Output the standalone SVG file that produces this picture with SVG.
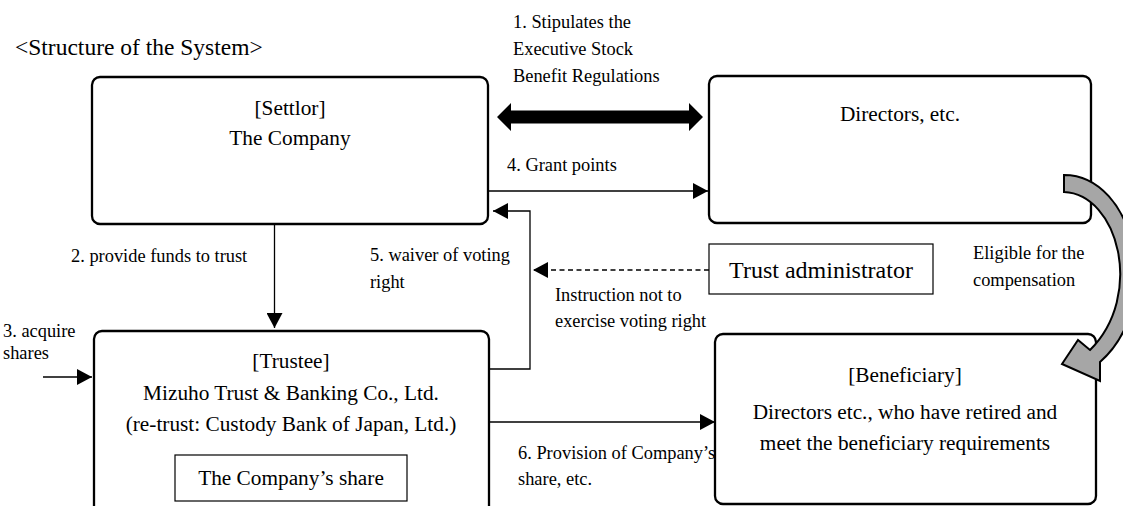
<svg xmlns="http://www.w3.org/2000/svg" width="1123" height="506" viewBox="0 0 1123 506">
<defs>
<style>
.box{fill:#fff;stroke:#000;stroke-width:2.3}
.thin{fill:#fff;stroke:#000;stroke-width:1.2}
.t{font-family:"Liberation Serif","Times New Roman",serif;fill:#000}
.big{font-size:21.3px;text-anchor:middle}
.lbl{font-size:18.4px}
.ln{fill:none;stroke:#000;stroke-width:1.3}
</style>
<marker id="ah" markerUnits="userSpaceOnUse" markerWidth="15" markerHeight="16" refX="15" refY="8" orient="auto" viewBox="0 0 15 16">
<path d="M0,0 L15,8 L0,16 z" fill="#000"/>
</marker>
</defs>
<rect width="1123" height="506" fill="#fff"/>
<text class="t" x="15" y="55" font-size="23.5">&lt;Structure of the System&gt;</text>

<g id="settlor">
<rect class="box" x="92" y="77" width="396" height="147" rx="8"/>
<text class="t big" x="290" y="115">[Settlor]</text>
<text class="t big" x="290" y="145">The Company</text>
</g>

<g id="directors">
<rect class="box" x="709" y="76" width="382" height="147" rx="8"/>
<text class="t big" x="900" y="121">Directors, etc.</text>
</g>

<g id="trustee">
<rect class="box" x="94" y="331" width="395" height="190" rx="8"/>
<text class="t big" x="291" y="368">[Trustee]</text>
<text class="t big" x="291" y="400">Mizuho Trust &amp; Banking Co., Ltd.</text>
<text class="t big" x="291" y="431">(re-trust: Custody Bank of Japan, Ltd.)</text>
</g>

<g id="company-share">
<rect class="thin" x="175" y="455" width="232" height="46"/>
<text class="t big" x="291" y="485">The Company’s share</text>
</g>

<g id="beneficiary">
<rect class="box" x="715" y="334" width="381" height="170" rx="8"/>
<text class="t big" x="905" y="382">[Beneficiary]</text>
<text class="t big" x="905" y="419">Directors etc., who have retired and</text>
<text class="t big" x="905" y="450">meet the beneficiary requirements</text>
</g>

<g id="trust-admin">
<rect class="thin" x="709" y="244" width="224" height="50"/>
<text class="t" x="821" y="278" font-size="24" text-anchor="middle">Trust administrator</text>
</g>

<g id="connectors">
<polygon points="497,117 511,103 511,110.5 689,110.5 689,103 703,117 689,131 689,123.5 511,123.5 511,131" fill="#000"/>
<line class="ln" x1="488" y1="191" x2="708" y2="191" marker-end="url(#ah)"/>
<polyline class="ln" points="489,369 530,369 530,211 493,211" marker-end="url(#ah)"/>
<line class="ln" x1="709" y1="270" x2="533" y2="270" stroke-dasharray="5 3.5" marker-end="url(#ah)"/>
<line class="ln" x1="274.5" y1="224" x2="274.5" y2="328" marker-end="url(#ah)"/>
<line class="ln" x1="43" y1="377" x2="92" y2="377" marker-end="url(#ah)"/>
<line class="ln" x1="489" y1="422" x2="715" y2="422" marker-end="url(#ah)"/>
<path d="M1064,175 C1135,175 1165,305 1100,362 L1100,381 L1062,364 L1078,340 L1090,350 C1145,295 1118,194 1064,192 Z" fill="#a6a6a6" stroke="#000" stroke-width="2" stroke-linejoin="miter"/>
</g>

<g id="labels">
<text class="t lbl" x="513" y="28">1. Stipulates the</text>
<text class="t lbl" x="513" y="55">Executive Stock</text>
<text class="t lbl" x="513" y="82">Benefit Regulations</text>
<text class="t lbl" x="507" y="171">4. Grant points</text>
<text class="t lbl" x="71" y="262">2. provide funds to trust</text>
<text class="t lbl" x="370" y="261">5. waiver of voting</text>
<text class="t lbl" x="370" y="288">right</text>
<text class="t lbl" x="3" y="337">3. acquire</text>
<text class="t lbl" x="3" y="359">shares</text>
<text class="t lbl" x="555" y="301">Instruction not to</text>
<text class="t lbl" x="555" y="327">exercise voting right</text>
<text class="t lbl" x="973" y="259">Eligible for the</text>
<text class="t lbl" x="973" y="286">compensation</text>
<text class="t lbl" x="518" y="459">6. Provision of Company’s</text>
<text class="t lbl" x="518" y="485">share, etc.</text>
</g>
</svg>
